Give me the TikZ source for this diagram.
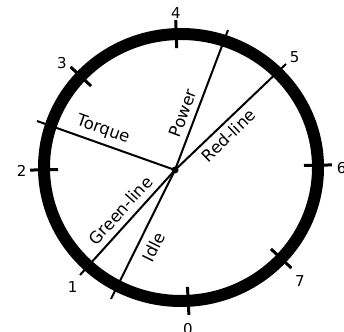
\documentclass[tikz,border=0pt]{standalone}
\usepackage{fontspec}
\setmainfont{DejaVu Sans}
\usetikzlibrary{calc}
\tikzset{
  ring/.style={line width=12pt},
  tickmark/.style={line width=3pt},
  spoke/.style={line width=2pt},
  num/.style={font=\fontsize{15}{15}\selectfont, inner sep=0pt},
  lbl/.style={font=\fontsize{16.5}{16.5}\selectfont, inner sep=0pt}
}
\begin{document}
\begin{tikzpicture}[x=1pt,y=1pt]
\useasboundingbox (0,0) rectangle (344,331);
\clip (0,0) rectangle (344,331);
\coordinate (C) at (181,163.5);
\draw[ring] (C) ellipse [x radius=137, y radius=133.5];
\foreach \a in {-87,181,137,92,1,-43}
  \draw[tickmark] ($(C)+(\a:123 and 119.5)$) -- ($(C)+(\a:151 and 147.5)$);
\coordinate (H) at (175,161);
\coordinate (tq) at (37,210);
\coordinate (pw) at (228,301);
\coordinate (rl) at (286,267);
\coordinate (gl) at (80,56);
\coordinate (id) at (111,32);
\draw[spoke] (H) -- (tq);
\draw[spoke] (H) -- (pw);
\draw[spoke] (H) -- (rl);
\draw[spoke] (H) -- (gl);
\draw[spoke] (H) -- (id);
\fill (H) circle (3.5);
\node[num] (n0) at (188,2) {0};
\node[num] (n1) at (72.7,44) {1};
\node[num] (n2) at (21.7,160) {2};
\node[num] (n3) at (62,268) {3};
\node[num] (n4) at (176,318) {4};
\node[num] (n5) at (294.7,274) {5};
\node[num] (n6) at (341.7,163) {6};
\node[num] (n7) at (300,50) {7};
\node[lbl, rotate=-19.6] (torque) at (103,201) {Torque};
\node[lbl, rotate=69.3] (power) at (183,218) {Power};
\node[lbl, rotate=43.7] (red) at (228.5,195.5) {Red-line};
\node[lbl, rotate=47.9] (green) at (120.5,120.5) {Green-line};
\node[lbl, rotate=63.6] (idle) at (153.5,84) {Idle};
\end{tikzpicture}
\end{document}
